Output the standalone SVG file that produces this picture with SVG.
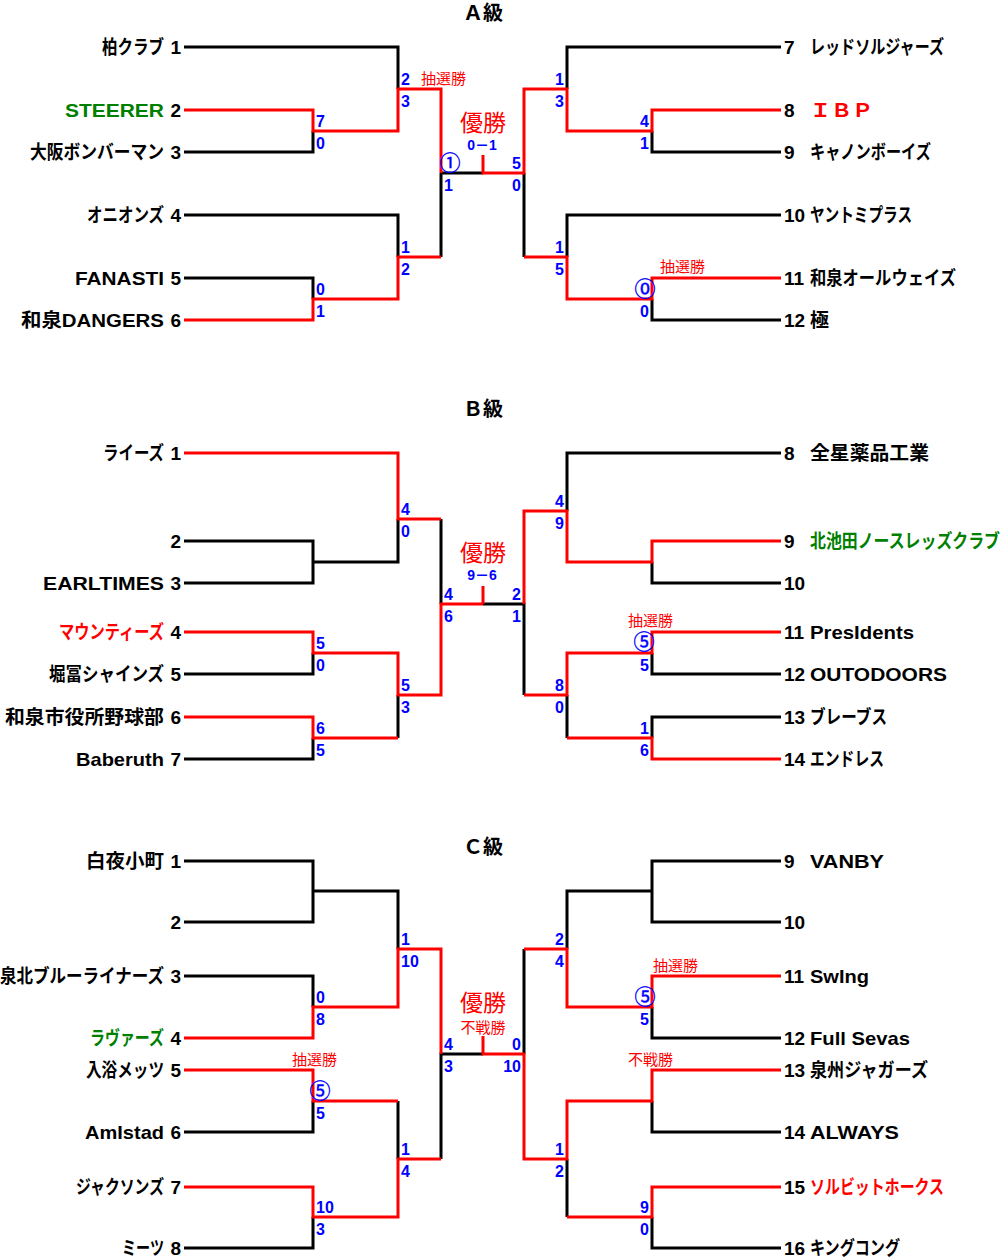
<svg xmlns="http://www.w3.org/2000/svg" width="1000" height="1258" viewBox="0 0 1000 1258">
<style>
.k{fill:none;stroke:#000;stroke-width:3}
.r{fill:none;stroke:#f00;stroke-width:3}
text{font-family:"Liberation Sans","Noto Sans CJK JP",sans-serif}
.nm{font-size:19px;font-weight:bold;fill:#000}
.e{text-anchor:end}
.g{fill:#008000}
.rd{fill:#f00}
.sc{font-size:16px;font-weight:bold;fill:#00f}
.cir{font-family:"Noto Sans CJK JP",sans-serif;font-size:21px;fill:#00f;stroke:#00f;stroke-width:0.4;text-anchor:middle}
.lot{font-family:"Noto Sans CJK JP",sans-serif;font-size:15px;fill:#f00}
.win{font-family:"Noto Sans CJK JP",sans-serif;font-size:23px;fill:#f00;text-anchor:middle}
.fs{font-size:14px;font-weight:bold;fill:#00f;text-anchor:middle}
.ttl{font-size:20px;font-weight:bold;fill:#000;text-anchor:middle}
</style>
<g id="connectors">
<g id="conn-black">
<path class="k" d="M184 47H398V89M184 152H313V131M184 215H398V257M184 278H313V299M441 257V173M441 173H483M781 47H567V89M781 152H652V131M781 215H567V257M781 320H652V299M524 173V257"/>
<path class="k" d="M184 541H313V583H184M313 562H398V519M184 674H313V653M184 759H313V738M398 738V695M441 519V604M781 453H567V511M781 583H652V562M781 674H652V653M781 717H652V738M567 738V695M524 695V604H483"/>
<path class="k" d="M184 861H313V922H184M313 891H398V949M184 976H313V1007M184 1132H313V1101M184 1248H313V1217M398 1101V1159M441 1159V1054H483M781 861H652V922H781M652 891H567V949M781 1038H652V1007M781 1132H652V1101M781 1248H652V1217M567 1217V1159M524 949V1054"/>
</g>
<g id="conn-red">
<path class="r" d="M184 110H313V131H398V89H441V173M184 320H313V299H398V257H441M483 155V173H524V89H567V131H652V110H781M781 278H652V299H567V257H524"/>
<path class="r" d="M184 453H398V519H441M184 632H313V653H398V695H441V604H483M483 586V604M184 717H313V738H398M781 541H652V562H567V511H524V604M781 632H652V653H567V695H524M781 759H652V738H567"/>
<path class="r" d="M184 1038H313V1007H398V949H441V1054M184 1070H313V1101H398M184 1187H313V1217H398V1159H441M781 976H652V1007H567V949H524M781 1070H652V1101H567V1159H524V1054H483V1036M781 1187H652V1217H567"/>
</g>
</g>

<g id="titles">
<text class="ttl" x="483" y="20">Ａ級</text>
<text class="ttl" x="483" y="416">Ｂ級</text>
<text class="ttl" x="483" y="854">Ｃ級</text>
</g>

<g id="A-final">
<text class="win" x="483" y="131">優勝</text>
<text class="fs" x="482" y="150">0－1</text>
</g>
<g id="B-final">
<text class="win" x="483" y="561">優勝</text>
<text class="fs" x="482" y="580">9－6</text>
</g>
<g id="C-final">
<text class="win" x="483" y="1011">優勝</text>
<text class="lot" x="483" y="1033" text-anchor="middle">不戦勝</text>
</g>

<!-- A teams -->
<g id="A1"><text class="nm e" x="164" y="54" textLength="62" lengthAdjust="spacingAndGlyphs">柏クラブ</text><text class="nm e" x="181" y="54">1</text></g>
<g id="A2"><text class="nm e g" x="164" y="117" textLength="99" lengthAdjust="spacingAndGlyphs">STEERER</text><text class="nm e" x="181" y="117">2</text></g>
<g id="A3"><text class="nm e" x="164" y="159" textLength="134" lengthAdjust="spacingAndGlyphs">大阪ボンバーマン</text><text class="nm e" x="181" y="159">3</text></g>
<g id="A4"><text class="nm e" x="164" y="222" textLength="77" lengthAdjust="spacingAndGlyphs">オニオンズ</text><text class="nm e" x="181" y="222">4</text></g>
<g id="A5"><text class="nm e" x="164" y="285" textLength="89" lengthAdjust="spacingAndGlyphs">FANASTI</text><text class="nm e" x="181" y="285">5</text></g>
<g id="A6"><text class="nm e" x="164" y="327" textLength="143" lengthAdjust="spacingAndGlyphs">和泉DANGERS</text><text class="nm e" x="181" y="327">6</text></g>
<g id="A7"><text class="nm" x="784" y="54">7</text><text class="nm" x="810" y="54" textLength="134" lengthAdjust="spacingAndGlyphs">レッドソルジャーズ</text></g>
<g id="A8"><text class="nm" x="784" y="117">8</text><text class="nm rd" x="810" y="117" textLength="63" lengthAdjust="spacingAndGlyphs">ＩＢＰ</text></g>
<g id="A9"><text class="nm" x="784" y="159">9</text><text class="nm" x="810" y="159" textLength="121" lengthAdjust="spacingAndGlyphs">キャノンボーイズ</text></g>
<g id="A10"><text class="nm" x="784" y="222">10</text><text class="nm" x="810" y="222" textLength="102" lengthAdjust="spacingAndGlyphs">ヤントミプラス</text></g>
<g id="A11"><text class="nm" x="784" y="285">11</text><text class="nm" x="810" y="285" textLength="146" lengthAdjust="spacingAndGlyphs">和泉オールウェイズ</text></g>
<g id="A12"><text class="nm" x="784" y="327">12</text><text class="nm" x="810" y="327">極</text></g>

<!-- B teams -->
<g id="B1"><text class="nm e" x="164" y="460" textLength="61" lengthAdjust="spacingAndGlyphs">ライーズ</text><text class="nm e" x="181" y="460">1</text></g>
<g id="B2"><text class="nm e" x="181" y="548">2</text></g>
<g id="B3"><text class="nm e" x="164" y="590" textLength="121" lengthAdjust="spacingAndGlyphs">EARLTIMES</text><text class="nm e" x="181" y="590">3</text></g>
<g id="B4"><text class="nm e rd" x="164" y="639" textLength="105" lengthAdjust="spacingAndGlyphs">マウンティーズ</text><text class="nm e" x="181" y="639">4</text></g>
<g id="B5"><text class="nm e" x="164" y="681" textLength="115" lengthAdjust="spacingAndGlyphs">堀冨シャインズ</text><text class="nm e" x="181" y="681">5</text></g>
<g id="B6"><text class="nm e" x="164" y="724" textLength="159" lengthAdjust="spacingAndGlyphs">和泉市役所野球部</text><text class="nm e" x="181" y="724">6</text></g>
<g id="B7"><text class="nm e" x="164" y="766" textLength="88" lengthAdjust="spacingAndGlyphs">Baberuth</text><text class="nm e" x="181" y="766">7</text></g>
<g id="B8"><text class="nm" x="784" y="460">8</text><text class="nm" x="810" y="460" textLength="119" lengthAdjust="spacingAndGlyphs">全星薬品工業</text></g>
<g id="B9"><text class="nm" x="784" y="548">9</text><text class="nm g" x="810" y="548" textLength="190" lengthAdjust="spacingAndGlyphs">北池田ノースレッズクラブ</text></g>
<g id="B10"><text class="nm" x="784" y="590">10</text></g>
<g id="B11"><text class="nm" x="784" y="639">11</text><text class="nm" x="810" y="639" textLength="104" lengthAdjust="spacingAndGlyphs">PresIdents</text></g>
<g id="B12"><text class="nm" x="784" y="681">12</text><text class="nm" x="810" y="681" textLength="137" lengthAdjust="spacingAndGlyphs">OUTODOORS</text></g>
<g id="B13"><text class="nm" x="784" y="724">13</text><text class="nm" x="810" y="724" textLength="77" lengthAdjust="spacingAndGlyphs">ブレーブス</text></g>
<g id="B14"><text class="nm" x="784" y="766">14</text><text class="nm" x="810" y="766" textLength="74" lengthAdjust="spacingAndGlyphs">エンドレス</text></g>

<!-- C teams -->
<g id="C1"><text class="nm e" x="164" y="868" textLength="78" lengthAdjust="spacingAndGlyphs">白夜小町</text><text class="nm e" x="181" y="868">1</text></g>
<g id="C2"><text class="nm e" x="181" y="929">2</text></g>
<g id="C3"><text class="nm e" x="164" y="983" textLength="164" lengthAdjust="spacingAndGlyphs">泉北ブルーライナーズ</text><text class="nm e" x="181" y="983">3</text></g>
<g id="C4"><text class="nm e g" x="164" y="1045" textLength="74" lengthAdjust="spacingAndGlyphs">ラヴァーズ</text><text class="nm e" x="181" y="1045">4</text></g>
<g id="C5"><text class="nm e" x="164" y="1077" textLength="78" lengthAdjust="spacingAndGlyphs">入浴メッツ</text><text class="nm e" x="181" y="1077">5</text></g>
<g id="C6"><text class="nm e" x="164" y="1139" textLength="79" lengthAdjust="spacingAndGlyphs">AmIstad</text><text class="nm e" x="181" y="1139">6</text></g>
<g id="C7"><text class="nm e" x="164" y="1194" textLength="88" lengthAdjust="spacingAndGlyphs">ジャクソンズ</text><text class="nm e" x="181" y="1194">7</text></g>
<g id="C8"><text class="nm e" x="164" y="1255" textLength="42" lengthAdjust="spacingAndGlyphs">ミーツ</text><text class="nm e" x="181" y="1255">8</text></g>
<g id="C9"><text class="nm" x="784" y="868">9</text><text class="nm" x="810" y="868" textLength="74" lengthAdjust="spacingAndGlyphs">VANBY</text></g>
<g id="C10"><text class="nm" x="784" y="929">10</text></g>
<g id="C11"><text class="nm" x="784" y="983">11</text><text class="nm" x="810" y="983" textLength="59" lengthAdjust="spacingAndGlyphs">SwIng</text></g>
<g id="C12"><text class="nm" x="784" y="1045">12</text><text class="nm" x="810" y="1045" textLength="100" lengthAdjust="spacingAndGlyphs">Full Sevas</text></g>
<g id="C13"><text class="nm" x="784" y="1077">13</text><text class="nm" x="810" y="1077" textLength="118" lengthAdjust="spacingAndGlyphs">泉州ジャガーズ</text></g>
<g id="C14"><text class="nm" x="784" y="1139">14</text><text class="nm" x="810" y="1139" textLength="89" lengthAdjust="spacingAndGlyphs">ALWAYS</text></g>
<g id="C15"><text class="nm" x="784" y="1194">15</text><text class="nm rd" x="810" y="1194" textLength="134" lengthAdjust="spacingAndGlyphs">ソルビットホークス</text></g>
<g id="C16"><text class="nm" x="784" y="1255">16</text><text class="nm" x="810" y="1255" textLength="90" lengthAdjust="spacingAndGlyphs">キングコング</text></g>

<g id="scores">
<!-- A -->
<text class="sc" x="401" y="85">2</text><text class="sc" x="401" y="107">3</text>
<text class="lot" x="421" y="84">抽選勝</text>
<text class="sc" x="316" y="127">7</text><text class="sc" x="316" y="149">0</text>
<text class="sc" x="401" y="253">1</text><text class="sc" x="401" y="275">2</text>
<text class="sc" x="316" y="295">0</text><text class="sc" x="316" y="317">1</text>
<text class="cir" x="450" y="170">①</text><text class="sc" x="444" y="191">1</text>
<text class="sc e" x="521" y="169">5</text><text class="sc e" x="521" y="191">0</text>
<text class="sc e" x="564" y="85">1</text><text class="sc e" x="564" y="107">3</text>
<text class="sc e" x="649" y="127">4</text><text class="sc e" x="649" y="149">1</text>
<text class="sc e" x="564" y="253">1</text><text class="sc e" x="564" y="275">5</text>
<text class="cir" x="645" y="296">⓪</text><text class="sc e" x="649" y="317">0</text>
<text class="lot" x="660" y="272">抽選勝</text>
<!-- B -->
<text class="sc" x="401" y="515">4</text><text class="sc" x="401" y="537">0</text>
<text class="sc" x="316" y="649">5</text><text class="sc" x="316" y="671">0</text>
<text class="sc" x="316" y="734">6</text><text class="sc" x="316" y="756">5</text>
<text class="sc" x="401" y="691">5</text><text class="sc" x="401" y="713">3</text>
<text class="sc" x="444" y="600">4</text><text class="sc" x="444" y="622">6</text>
<text class="sc e" x="521" y="600">2</text><text class="sc e" x="521" y="622">1</text>
<text class="sc e" x="564" y="507">4</text><text class="sc e" x="564" y="529">9</text>
<text class="cir" x="644" y="649">⑤</text><text class="sc e" x="649" y="671">5</text>
<text class="lot" x="628" y="626">抽選勝</text>
<text class="sc e" x="564" y="691">8</text><text class="sc e" x="564" y="713">0</text>
<text class="sc e" x="649" y="734">1</text><text class="sc e" x="649" y="756">6</text>
<!-- C -->
<text class="sc" x="401" y="945">1</text><text class="sc" x="401" y="967">10</text>
<text class="sc" x="316" y="1003">0</text><text class="sc" x="316" y="1025">8</text>
<text class="cir" x="320" y="1098">⑤</text><text class="sc" x="316" y="1119">5</text>
<text class="lot" x="292" y="1065">抽選勝</text>
<text class="sc" x="401" y="1155">1</text><text class="sc" x="401" y="1177">4</text>
<text class="sc" x="316" y="1213">10</text><text class="sc" x="316" y="1235">3</text>
<text class="sc" x="444" y="1050">4</text><text class="sc" x="444" y="1072">3</text>
<text class="sc e" x="521" y="1050">0</text><text class="sc e" x="521" y="1072">10</text>
<text class="sc e" x="564" y="945">2</text><text class="sc e" x="564" y="967">4</text>
<text class="cir" x="645" y="1004">⑤</text><text class="sc e" x="649" y="1025">5</text>
<text class="lot" x="653" y="971">抽選勝</text>
<text class="lot" x="628" y="1065">不戦勝</text>
<text class="sc e" x="564" y="1155">1</text><text class="sc e" x="564" y="1177">2</text>
<text class="sc e" x="649" y="1213">9</text><text class="sc e" x="649" y="1235">0</text>
</g>
</svg>
